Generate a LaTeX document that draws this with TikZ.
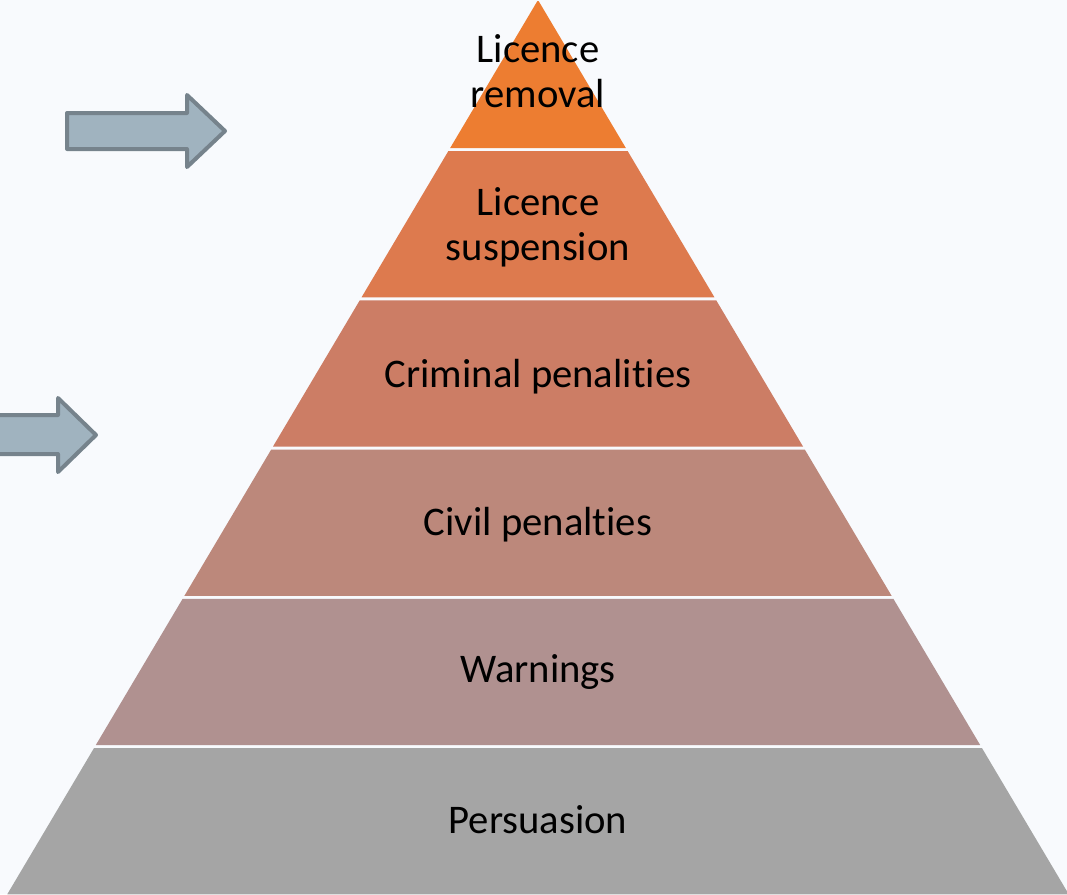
\documentclass[tikz,border=0pt]{standalone}
\usepackage{fontspec}
\setmainfont{Carlito}[Ligatures=NoCommon]
\definecolor{bgcol}{HTML}{F8FAFD}
\definecolor{layerA}{HTML}{ED7D31}
\definecolor{layerB}{HTML}{DD7A4E}
\definecolor{layerC}{HTML}{CC7D65}
\definecolor{layerD}{HTML}{BC887B}
\definecolor{layerE}{HTML}{B09190}
\definecolor{layerF}{HTML}{A5A5A5}
\definecolor{arrowfill}{HTML}{A0B3BF}
\definecolor{arrowline}{HTML}{76838C}

\begin{document}
\begin{tikzpicture}[x=0.75pt,y=-0.75pt,
  label/.style={font=\fontsize{30.5}{33.5}\selectfont, align=center, anchor=base, inner sep=0pt},
  blockarrow/.style={fill=arrowfill, draw=arrowline, line width=3pt, line join=round},
  declare function={
	lx(\y) = 538 - 0.5935 * \y;
	rx(\y) = 538 + 0.5935 * \y;
}]
\useasboundingbox (0,0) rectangle (1067,894);
\fill[bgcol] (0,0) rectangle (1067,894);

% layers, top to bottom
\foreach \i/\col in {1/layerA,2/layerB,3/layerC,4/layerD,5/layerE,6/layerF}{
	\pgfmathsetmacro\ytop{\i==1 ? 1 : 0.25 + 149.25 * (\i - 1) + 1.5}
	\pgfmathsetmacro\ybot{0.25 + 149.25 * \i - 1.5}
	\fill[\col] ({lx(\ytop)},\ytop) -- ({rx(\ytop)},\ytop) -- ({rx(\ybot)},\ybot) -- ({lx(\ybot)},\ybot) -- cycle;
}

% base anchor of a two-line node is its last line
\node[label] (removal) at (538,107) {Licence\\removal};
\node[label] (suspension) at (538,260) {Licence\\suspension};
\node[label] (criminal) at (538,387) {Criminal penalities};
\node[label] (civil) at (538,535) {Civil penalties};
\node[label] (warnings) at (538,682) {Warnings};
\node[label] (persuasion) at (538,833) {Persuasion};

% block arrows
\draw[blockarrow] (67,113) -- (187,113) -- (187,95) -- (225,131) -- (187,167) -- (187,149) -- (67,149) -- cycle;
\draw[blockarrow] (-65,415) -- (58,415) -- (58,398) -- (96,435) -- (58,472) -- (58,454) -- (-65,454) -- cycle;
\end{tikzpicture}
\end{document}
